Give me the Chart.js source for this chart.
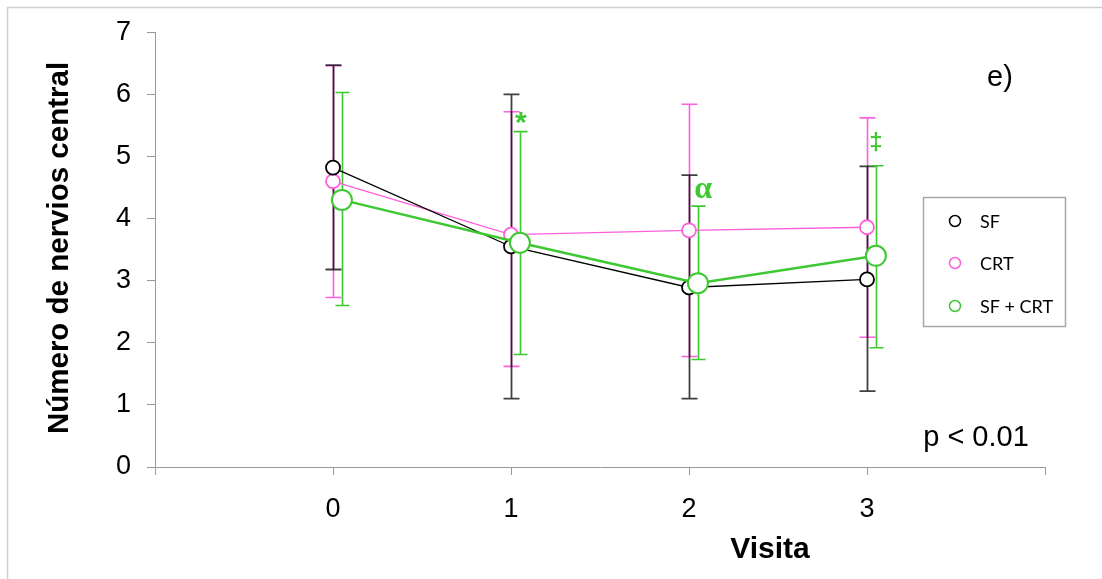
<!DOCTYPE html>
<html>
<head>
<meta charset="utf-8">
<script src="https://cdn.jsdelivr.net/npm/chart.js@4/dist/chart.umd.min.js"></script>
<style>
html,body{margin:0;padding:0;background:#fff;}
canvas{display:block;}
</style>
</head>
<body>
<canvas id="c" width="1102" height="579"></canvas>
<script>
const visits = [0, 1, 2, 3];
const xTickLabels = ['0', '1', '2', '3'];
const seriesNames = ['SF', 'CRT', 'SF + CRT'];

const sfMean  = [4.82, 3.55, 2.89, 3.02];
const sfUpper = [6.47, 6.00, 4.70, 4.84];
const sfLower = [3.18, 1.10, 1.10, 1.22];

const crtMean  = [4.60, 3.74, 3.81, 3.86];
const crtUpper = [6.46, 5.72, 5.84, 5.62];
const crtLower = [2.73, 1.62, 1.78, 2.09];

const combMean  = [4.30, 3.61, 2.96, 3.40];
const combUpper = [6.03, 5.40, 4.20, 4.85];
const combLower = [2.60, 1.81, 1.73, 1.92];
const combOffset = 0.05;

const annotX = [1.055, 2.08, 3.05];
const annotY = [5.52, 4.47, 5.21];
const annotText = ['*', 'α', '‡'];

const BLACK = '#000000', PINK = '#ff5fdc', GREEN = '#3ec832';

function pts(xs, ys, off) { return xs.map((x, i) => ({x: x + (off || 0), y: ys[i]})); }

const errorBars = [
  {color: PINK, width: 1.6, cap: 8, alpha: 1, off: 0, up: crtUpper, lo: crtLower},
  {color: BLACK, width: 1.8, cap: 8, alpha: 0.75, off: 0, up: sfUpper, lo: sfLower},
  {color: GREEN, width: 1.6, cap: 7, alpha: 1, off: combOffset, up: combUpper, lo: combLower}
];

const errPlugin = {
  id: 'err',
  beforeDatasetsDraw(chart) {
    const ctx = chart.ctx, xs = chart.scales.x, ys = chart.scales.y;
    errorBars.forEach(e => {
      ctx.save();
      ctx.strokeStyle = e.color; ctx.globalAlpha = e.alpha; ctx.lineWidth = e.width;
      visits.forEach((v, i) => {
        const px = Math.round(xs.getPixelForValue(v + e.off)) + 0.5;
        const pu = ys.getPixelForValue(e.up[i]), pl = ys.getPixelForValue(e.lo[i]);
        ctx.beginPath();
        ctx.moveTo(px, pu); ctx.lineTo(px, pl);
        ctx.moveTo(px - e.cap, pu); ctx.lineTo(px + e.cap, pu);
        ctx.moveTo(px - e.cap, pl); ctx.lineTo(px + e.cap, pl);
        ctx.stroke();
      });
      ctx.restore();
    });
  }
};

const deco = {
  id: 'deco',
  beforeDraw(chart) {
    const ctx = chart.ctx;
    ctx.save();
    ctx.strokeStyle = '#d0d0d0'; ctx.lineWidth = 1.5;
    ctx.strokeRect(7.5, 7.5, 1300, 800);
    ctx.restore();
  },
  afterDraw(chart) {
    const ctx = chart.ctx, xs = chart.scales.x, ys = chart.scales.y;
    ctx.save();
    ctx.fillStyle = GREEN; ctx.textAlign = 'center'; ctx.textBaseline = 'middle';
    annotText.forEach((t, i) => {
      ctx.font = (t === 'α' ? 'bold 32px "Liberation Serif"' : (t === '*' ? 'bold 30px "Liberation Sans"' : 'bold 24px "Liberation Sans"'));
      ctx.fillText(t, xs.getPixelForValue(annotX[i]), ys.getPixelForValue(annotY[i]));
    });
    ctx.fillStyle = '#000';
    ctx.font = 'bold 30px "Liberation Sans"';
    ctx.fillText('Visita', 770, 550);
    ctx.save();
    ctx.translate(60, 248); ctx.rotate(-Math.PI / 2);
    ctx.font = 'bold 29.5px "Liberation Sans"';
    ctx.fillText('Número de nervios central', 0, 0);
    ctx.restore();
    ctx.font = '29px "Liberation Sans"';
    ctx.fillText('e)', 1000, 78);
    ctx.fillText('p < 0.01', 976, 438);
    ctx.strokeStyle = '#a8a8a8'; ctx.lineWidth = 1.5;
    ctx.strokeRect(923.5, 197.5, 142, 129);
    const lc = [BLACK, PINK, GREEN], ly = [221, 263, 306];
    ctx.font = '18px Lato'; ctx.textAlign = 'left';
    seriesNames.forEach((n, i) => {
      ctx.beginPath(); ctx.arc(955, ly[i], 5.5, 0, Math.PI * 2);
      ctx.strokeStyle = lc[i]; ctx.lineWidth = 1.5; ctx.stroke();
      ctx.fillStyle = '#000';
      ctx.fillText(n, 980, ly[i] + 1);
    });
    ctx.restore();
  }
};

new Chart(document.getElementById('c'), {
  type: 'scatter',
  data: {
    datasets: [
      {label: seriesNames[0], data: pts(visits, sfMean), showLine: true, borderColor: BLACK, borderWidth: 1.3,
       pointRadius: 7, pointBorderWidth: 1.8, pointBackgroundColor: '#fff', pointBorderColor: BLACK, order: 1},
      {label: seriesNames[1], data: pts(visits, crtMean), showLine: true, borderColor: PINK, borderWidth: 1.3,
       pointRadius: 7, pointBorderWidth: 1.8, pointBackgroundColor: '#fff', pointBorderColor: PINK, order: 2},
      {label: seriesNames[2], data: pts(visits, combMean, combOffset), showLine: true, borderColor: GREEN, borderWidth: 2.5,
       pointRadius: 10, pointBorderWidth: 2, pointBackgroundColor: '#fff', pointBorderColor: GREEN, order: 0}
    ]
  },
  options: {
    responsive: false, animation: false,
    layout: {padding: {left: 0, top: 30, right: 57, bottom: 0}},
    plugins: {legend: {display: false}, tooltip: {enabled: false}},
    scales: {
      x: {
        type: 'linear', min: -1, max: 4,
        afterFit(s) { s.height = 112; },
        ticks: {stepSize: 1, padding: 18, color: '#000', font: {family: '"Liberation Sans"', size: 27},
          callback: v => (v >= 0 && v <= 3 ? xTickLabels[v] : '')},
        grid: {display: true, drawOnChartArea: false, drawTicks: true, tickLength: 8, color: '#9a9a9a'},
        border: {display: true, color: '#9a9a9a', width: 1}
      },
      y: {
        min: 0, max: 7,
        afterFit(s) { s.width = 155; },
        ticks: {stepSize: 1, padding: 16, color: '#000', font: {family: '"Liberation Sans"', size: 27}},
        grid: {display: true, drawOnChartArea: false, drawTicks: true, tickLength: 8, color: '#9a9a9a'},
        border: {display: true, color: '#9a9a9a', width: 1}
      }
    }
  },
  plugins: [errPlugin, deco]
});
</script>
</body>
</html>
